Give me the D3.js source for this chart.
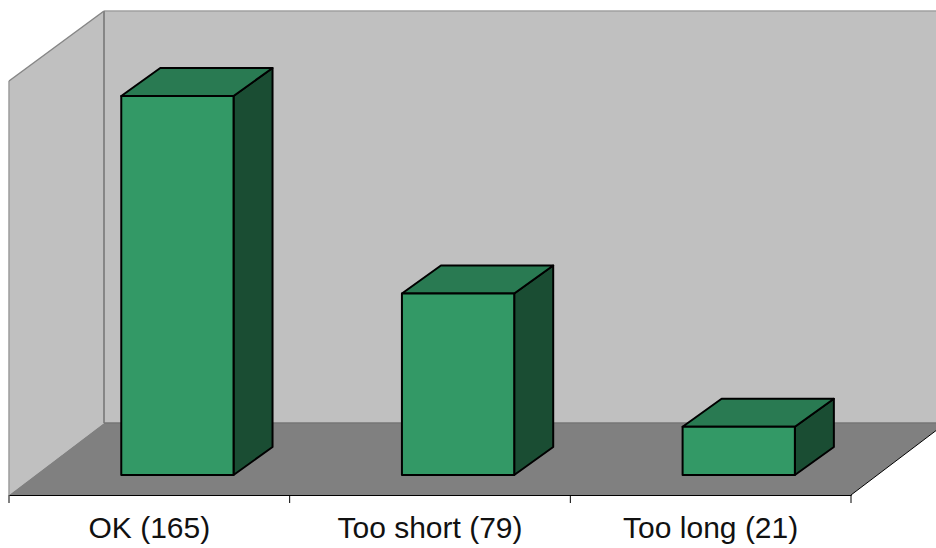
<!DOCTYPE html>
<html lang="en">
<head>
<meta charset="UTF-8">
<title>3D bar chart</title>
<script src="https://cdnjs.cloudflare.com/ajax/libs/d3/7.8.5/d3.min.js"></script>
<style>
  html, body { margin: 0; padding: 0; background: #fff; }
  svg { display: block; }
</style>
</head>
<body>
<div id="draw-here"></div>
<script>
/* global d3 */

// data
var categories = ["OK", "Too short", "Too long"];
var values = [165, 79, 21];

// size of chart
var w = 936;
var h = 548;

// plot box corners
var left = 9, right = 851, floorY = 495;
var wallDx = 95, wallDy = 72, wallTop = 11;
var barBase = 475, barTop = 96;
var depthX = 39, depthY = 28;

var x = d3.scaleBand().domain(categories).range([left, right]);
var y = d3.scaleLinear().domain([0, d3.max(values)]).range([barBase, barTop]);

var step = x.step();
var barWidth = step * 0.4;

var svg = d3.select("#draw-here").append("svg")
    .attr("width", w)
    .attr("height", h);

function poly(points, fill, stroke, sw) {
    return svg.append("path")
        .attr("d", d3.line()(points) + "Z")
        .attr("fill", fill)
        .attr("stroke", stroke)
        .attr("stroke-width", sw)
        .attr("stroke-linejoin", "miter");
}

var backX = left + wallDx, backY = floorY - wallDy;
var farX = right + wallDx;

// walls and floor
poly([[left, floorY], [left, wallTop + wallDy - 2], [backX, wallTop], [backX, backY]], "#c0c0c0", "none", 0);
poly([[backX, wallTop], [farX, wallTop], [farX, backY], [backX, backY]], "#c0c0c0", "none", 0);
poly([[left, floorY], [backX, backY], [farX, backY], [right, floorY]], "#808080", "none", 0);

// wall edges
function edge(a, b, color, sw) {
    svg.append("line")
        .attr("x1", a[0]).attr("y1", a[1])
        .attr("x2", b[0]).attr("y2", b[1])
        .attr("stroke", color)
        .attr("stroke-width", sw);
}
edge([left, floorY], [left, wallTop + wallDy - 2], "#9c9c9c", 1.5);
edge([left, wallTop + wallDy - 2], [backX, wallTop], "#868686", 1.5);
edge([backX, wallTop], [farX, wallTop], "#a0a0a0", 1.5);
edge([backX, wallTop], [backX, backY], "#868686", 2);
edge([backX, backY], [farX, backY], "#767676", 1.5);
edge([right, floorY], [farX, backY], "#000", 1);

// bars: right side, top, then front
var bars = svg.selectAll("g.bar")
    .data(categories.map(function (c, i) { return { name: c, value: values[i] }; }))
    .enter().append("g")
    .attr("class", "bar");

bars.each(function (d) {
    var g = d3.select(this);
    var x0 = x(d.name) + barWidth;
    var x1 = x0 + barWidth;
    var top = y(d.value);
    var base = y(0);
    function face(points, fill) {
        g.append("path")
            .attr("d", d3.line()(points) + "Z")
            .attr("fill", fill)
            .attr("stroke", "#000")
            .attr("stroke-width", 2)
            .attr("stroke-linejoin", "round");
    }
    face([[x1, top], [x1 + depthX, top - depthY], [x1 + depthX, base - depthY], [x1, base]], "#1a4d33");
    face([[x0, top], [x0 + depthX, top - depthY], [x1 + depthX, top - depthY], [x1, top]], "#297a52");
    face([[x0, top], [x1, top], [x1, base], [x0, base]], "#339966");
});

// category axis, ticks sit on the band edges
var axis = d3.axisBottom(x)
    .tickSize(0)
    .tickPadding(22)
    .tickFormat(function (c) { return c + " (" + values[categories.indexOf(c)] + ")"; });

var axisG = svg.append("g")
    .attr("transform", "translate(0," + floorY + ")")
    .call(axis);

axisG.select(".domain").attr("stroke", "#000").attr("stroke-width", 1);
axisG.selectAll("text")
    .attr("font-family", "'Liberation Sans', Arial, sans-serif")
    .attr("font-size", "30px")
    .attr("fill", "#111");

var edges = categories.map(function (c) { return x(c); }).concat([right]);
axisG.selectAll("line.edge-tick")
    .data(edges)
    .enter().append("line")
    .attr("class", "edge-tick")
    .attr("x1", function (d) { return d; })
    .attr("x2", function (d) { return d; })
    .attr("y1", 0)
    .attr("y2", 8)
    .attr("stroke", "#000")
    .attr("stroke-width", 1);
</script>
</body>
</html>
